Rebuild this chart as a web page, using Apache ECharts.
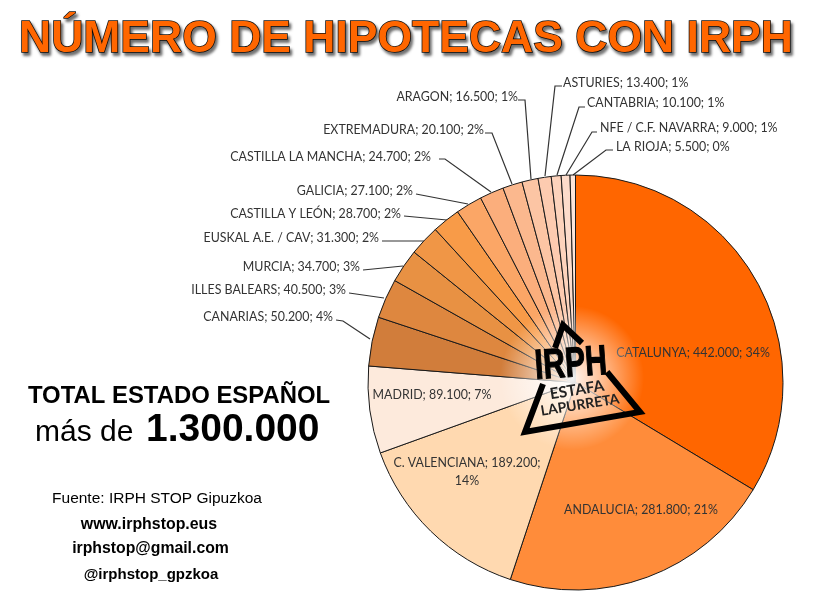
<!DOCTYPE html>
<html><head><meta charset="utf-8">
<style>html,body{margin:0;padding:0;background:#fff}#c{width:819px;height:606px}</style>
<script src="https://cdn.jsdelivr.net/npm/echarts@6/dist/echarts.min.js"></script>
</head><body><div id="c"></div>
<script>
const categories = ['CATALUNYA','ANDALUCIA','C. VALENCIANA','MADRID','CANARIAS','ILLES BALEARS','MURCIA','EUSKAL A.E. / CAV','CASTILLA Y LEÓN','GALICIA','CASTILLA LA MANCHA','EXTREMADURA','ARAGON','ASTURIES','CANTABRIA','NFE / C.F. NAVARRA','LA RIOJA'];
const values = [442000,281800,189200,89100,50200,40500,34700,31300,28700,27100,24700,20100,16500,13400,10100,9000,5500];
const colors = ['#FF6600','#FF8C3A','#FFD9B0','#FDEADC','#D17D3B','#DE873F','#E89143','#F09646','#F89B48','#FBA666','#FBAE7C','#FBB88E','#FCC5A4','#FDCBB0','#FDD3BC','#FDDCCB','#FEE6DA'];
const labelPlace = [
 {x:693,y:353,a:'center'},{x:641,y:510,a:'center'},{x:467,y:472,a:'center'},{x:432,y:395,a:'center'},
 {x:333,y:317,a:'right',l:[[336,320],[343,321],[370,339]]},
 {x:346,y:290,a:'right',l:[[349,293],[384,298]]},
 {x:360,y:267,a:'right',l:[[363,270],[403,266]]},
 {x:379,y:238,a:'right',l:[[382,241],[425,241]]},
 {x:401,y:214,a:'right',l:[[404,216],[447,220]]},
 {x:413,y:191,a:'right',l:[[416,194],[468,204]]},
 {x:431,y:157,a:'right',l:[[439,159],[445,159],[491,192]]},
 {x:484,y:130,a:'right',l:[[485,133],[492,133],[512,184]]},
 {x:518,y:97,a:'right',l:[[518,100],[525,100],[531,179]]},
 {x:563,y:83,a:'left',l:[[562,86],[555,86],[545,176]]},
 {x:587,y:103,a:'left',l:[[585,107],[579,107],[557,175]]},
 {x:600,y:128,a:'left',l:[[597,132],[592,132],[566,175]]},
 {x:616,y:147,a:'left',l:[[613,150],[606,150],[573,175]]}
];
const fmt = v => String(v).replace(/\B(?=(\d{3})+$)/g,'.');
const chart = echarts.init(document.getElementById('c'),null,{renderer:'canvas'});
const blk = '#000', sans = '"Liberation Sans",Arial,sans-serif';
const txt = (x,y,t,size,weight,extra) => ({type:'text',x,y,z:20,style:Object.assign({text:t,font:`${weight} ${size}px ${sans}`,fill:blk,textAlign:'center',textVerticalAlign:'middle'},extra||{})});
chart.setOption({
 animation:false,
 backgroundColor:'#fff',
 title:{text:'NÚMERO DE HIPOTECAS CON IRPH',left:14,top:12,
  textStyle:{fontFamily:sans,fontWeight:'bold',fontSize:44.5,color:'#FF6600',textBorderColor:'#111',textBorderWidth:1.5,textShadowColor:'rgba(0,0,0,0.55)',textShadowBlur:3,textShadowOffsetX:2,textShadowOffsetY:3}},
 series:[{
  type:'pie',center:[575.5,382.5],radius:[0,207.5],startAngle:90,clockwise:true,avoidLabelOverlap:false,silent:true,
  itemStyle:{borderColor:'#1a1a1a',borderWidth:1},
  label:{show:true,position:'outside',fontFamily:'Lato',fontSize:12.4,color:'#333',lineHeight:18,
   formatter:p=>{const s=`${p.name}; ${fmt(p.value)}; ${Math.round(p.percent)}%`;return p.dataIndex===2?`C. VALENCIANA; ${fmt(p.value)};\n${Math.round(p.percent)}%`:s;}},
  labelLine:{show:true,lineStyle:{color:'#333',width:1.2}},
  labelLayout:p=>{const q=labelPlace[p.dataIndex];return {x:q.x,y:q.y,align:q.a,verticalAlign:'middle',labelLinePoints:q.l};},
  data:categories.map((name,i)=>({name,value:values[i],itemStyle:{color:colors[i]},labelLine:{show:i>3}}))
 }],
 graphic:[
  {type:'circle',z:10,shape:{cx:572,cy:378,r:72},style:{fill:{type:'radial',x:.5,y:.5,r:.5,colorStops:[{offset:0,color:'rgba(255,255,255,.95)'},{offset:.4,color:'rgba(255,255,255,.6)'},{offset:1,color:'rgba(255,255,255,0)'}]}}},
  {type:'polyline',z:15,shape:{points:[[555,348],[563,325],[582,343]]},style:{stroke:blk,lineWidth:6,fill:null}},
  {type:'polyline',z:15,shape:{points:[[543,384],[525,432],[640,412],[607,372]]},style:{stroke:blk,lineWidth:6,fill:null}},
  {type:'text',z:16,x:571,y:365,rotation:0.07,scaleX:.72,style:{text:'IRPH',font:`bold 42px ${sans}`,fill:blk,textAlign:'center',textVerticalAlign:'middle',stroke:blk,lineWidth:1.2,shadowColor:'#fff',shadowBlur:6}},
  {type:'text',z:16,x:577,y:390,rotation:0.16,style:{text:'ESTAFA',font:'bold 15.5px Lato',fill:'#222',textAlign:'center',textVerticalAlign:'middle'}},
  {type:'text',z:16,x:580,y:405,rotation:0.16,style:{text:'LAPURRETA',font:'bold 14px Lato',fill:'#222',textAlign:'center',textVerticalAlign:'middle'}},
  txt(179,396,'TOTAL ESTADO ESPAÑOL',23.9,'bold'),
  {type:'text',z:20,x:35,y:433,style:{text:'más de',font:`30px ${sans}`,fill:blk,textAlign:'left',textVerticalAlign:'middle'}},
  {type:'text',z:20,x:146,y:430,style:{text:'1.300.000',font:`bold 39px ${sans}`,fill:blk,textAlign:'left',textVerticalAlign:'middle'}},
  txt(157,499,'Fuente: IRPH STOP Gipuzkoa',15.5,'normal'),
  txt(149,525,'www.irphstop.eus',15.9,'bold'),
  txt(150.5,549,'irphstop@gmail.com',15.8,'bold'),
  txt(151,575,'@irphstop_gpzkoa',15,'bold')
 ]
});
</script></body></html>
